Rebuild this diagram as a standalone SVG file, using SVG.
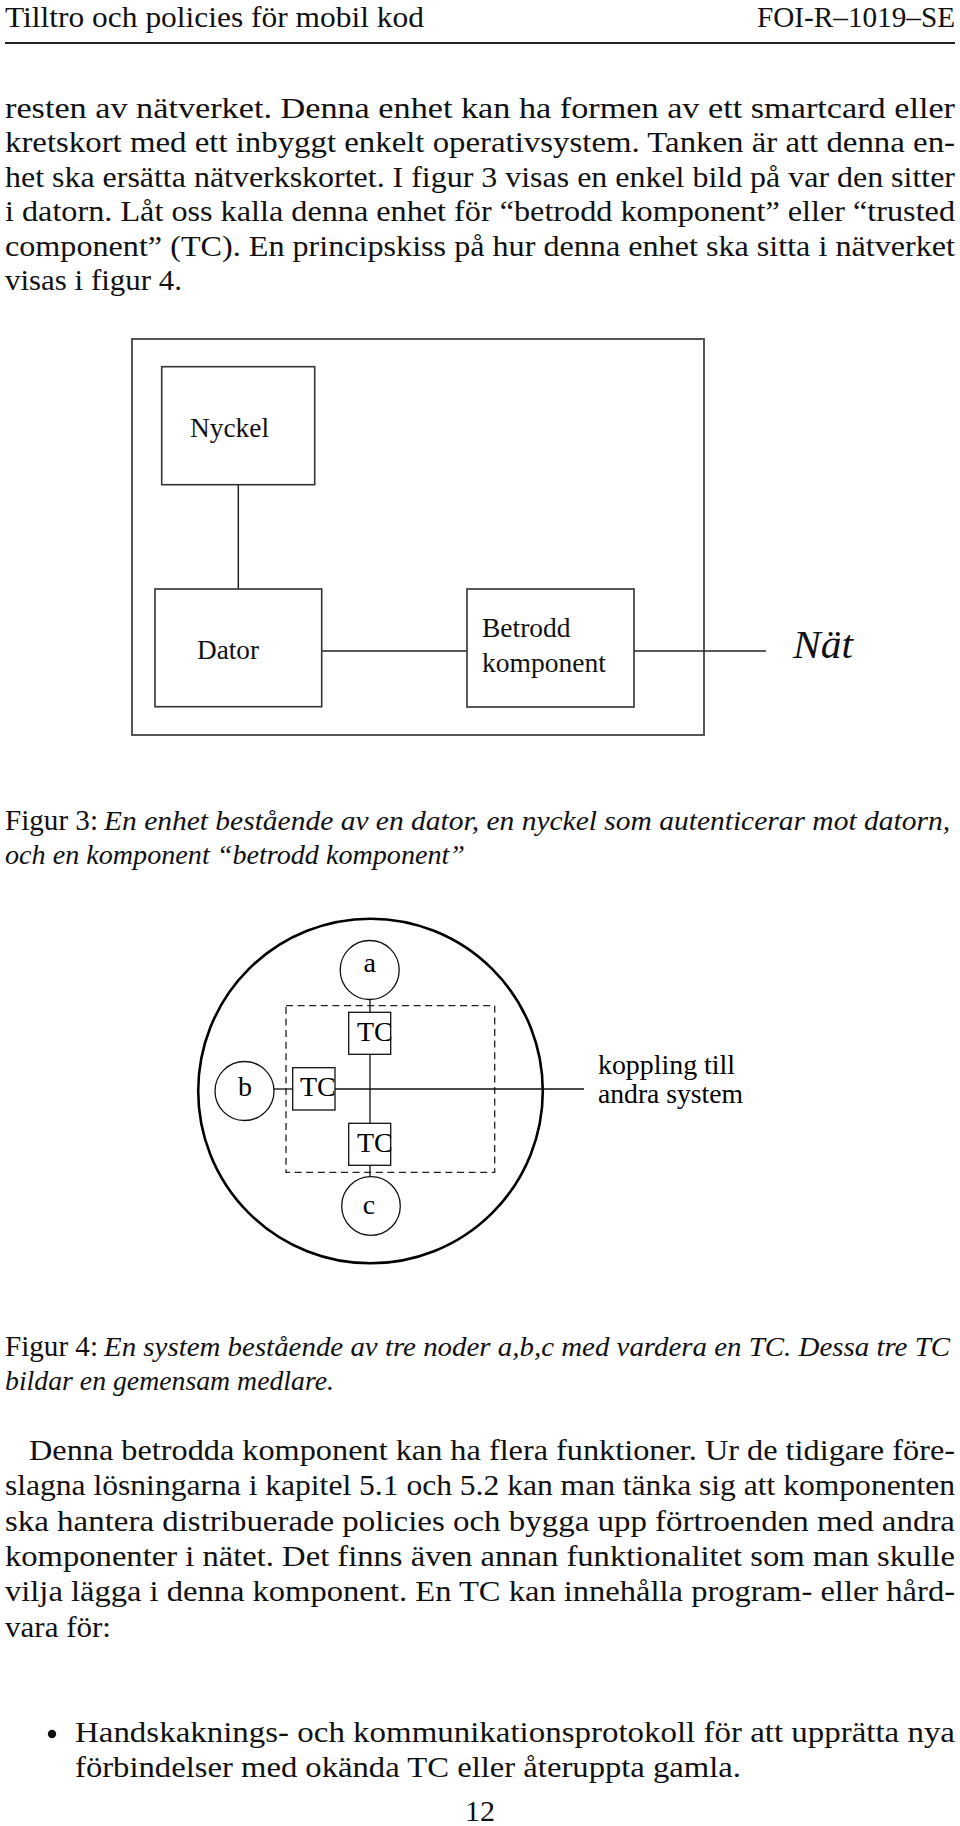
<svg xmlns="http://www.w3.org/2000/svg" width="960" height="1826" viewBox="0 0 960 1826">
<style>
  .body { font-family: "Liberation Serif", "DejaVu Serif", serif; font-size: 30px; fill: #111; }
  .it { font-style: italic; }
  .cap { font-size: 28px; }
  .hdr { font-family: "Liberation Serif", "DejaVu Serif", serif; font-size: 30px; fill: #111; }
  .lbl { font-family: "Liberation Serif", "DejaVu Serif", serif; font-size: 27.5px; fill: #111; }
  .lbl4 { font-family: "Liberation Serif", "DejaVu Serif", serif; font-size: 28px; fill: #000; }
  .box3 { fill: none; stroke: #333; stroke-width: 1.6; }
  .frame3 { fill: none; stroke: #555; stroke-width: 2; }
  .line3 { fill: none; stroke: #222; stroke-width: 1.5; }
  .shape4 { fill: none; stroke: #111; stroke-width: 1.3; }
  .line4 { fill: none; stroke: #111; stroke-width: 1.3; }
</style>

<rect x="0" y="0" width="960" height="1826" fill="#ffffff"/>

<!-- Header -->
<g id="header">
  <text class="hdr" x="5" y="27" textLength="419" lengthAdjust="spacingAndGlyphs">Tilltro och policies för mobil kod</text>
  <text class="hdr" x="757" y="27" textLength="198" lengthAdjust="spacingAndGlyphs">FOI-R–1019–SE</text>
  <line x1="5" y1="43" x2="955" y2="43" stroke="#222" stroke-width="2"/>
</g>

<!-- Paragraph 1 -->
<g id="para1" class="body">
  <text x="5" y="118" textLength="950" lengthAdjust="spacingAndGlyphs">resten av nätverket. Denna enhet kan ha formen av ett smartcard eller</text>
  <text x="5" y="152" textLength="950" lengthAdjust="spacingAndGlyphs">kretskort med ett inbyggt enkelt operativsystem. Tanken är att denna en-</text>
  <text x="5" y="187" textLength="950" lengthAdjust="spacingAndGlyphs">het ska ersätta nätverkskortet. I figur 3 visas en enkel bild på var den sitter</text>
  <text x="5" y="221" textLength="950" lengthAdjust="spacingAndGlyphs">i datorn. Låt oss kalla denna enhet för “betrodd komponent” eller “trusted</text>
  <text x="5" y="256" textLength="950" lengthAdjust="spacingAndGlyphs">component” (TC). En principskiss på hur denna enhet ska sitta i nätverket</text>
  <text x="5" y="290" textLength="177" lengthAdjust="spacingAndGlyphs">visas i figur 4.</text>
</g>

<!-- Figure 3 -->
<g id="fig3-frame">
  <rect class="frame3" x="132" y="339" width="572" height="396"/>
</g>
<g id="fig3-connectors">
  <line class="line3" x1="238.3" y1="485" x2="238.3" y2="589"/>
  <line class="line3" x1="321.7" y1="651" x2="467" y2="651"/>
  <line class="line3" x1="634" y1="651" x2="766" y2="651"/>
</g>
<g id="nyckel">
  <rect class="box3" x="161.7" y="366.7" width="153" height="118"/>
  <text class="lbl" x="190" y="437" textLength="79" lengthAdjust="spacingAndGlyphs">Nyckel</text>
</g>
<g id="dator">
  <rect class="box3" x="155" y="589" width="166.7" height="117.7"/>
  <text class="lbl" x="197" y="659" textLength="62" lengthAdjust="spacingAndGlyphs">Dator</text>
</g>
<g id="betrodd">
  <rect class="box3" x="467" y="589" width="167" height="118"/>
  <text class="lbl" x="482" y="637">Betrodd</text>
  <text class="lbl" x="482" y="672" textLength="124" lengthAdjust="spacingAndGlyphs">komponent</text>
</g>
<g id="nat">
  <text x="793" y="658" font-family="Liberation Serif, serif" font-style="italic" font-size="39" fill="#111" textLength="60" lengthAdjust="spacingAndGlyphs">Nät</text>
</g>

<!-- Figure 3 caption -->
<g id="caption3" class="body">
  <text x="5" y="830" textLength="93" lengthAdjust="spacingAndGlyphs">Figur 3:</text>
  <text x="104" y="830" textLength="846" lengthAdjust="spacingAndGlyphs" class="it cap">En enhet bestående av en dator, en nyckel som autenticerar mot datorn,</text>
  <text x="5" y="864" textLength="460" lengthAdjust="spacingAndGlyphs" class="it cap">och en komponent “betrodd komponent”</text>
</g>

<!-- Figure 4 -->
<g id="system">
  <circle cx="370.5" cy="1091" r="172.3" fill="none" stroke="#000" stroke-width="2.6"/>
</g>
<g id="medlare">
  <rect x="286" y="1005.7" width="208.7" height="166.6" fill="none" stroke="#222" stroke-width="1.3" stroke-dasharray="7 4.6"/>
</g>
<g id="fig4-connectors">
  <line class="line4" x1="370" y1="999.5" x2="370" y2="1012.3"/>
  <line class="line4" x1="370" y1="1054.3" x2="370" y2="1123.3"/>
  <line class="line4" x1="370" y1="1165.3" x2="370" y2="1176.7"/>
  <line class="line4" x1="274" y1="1089" x2="292.7" y2="1089"/>
  <line class="line4" x1="335" y1="1089" x2="584" y2="1089"/>
</g>
<g id="node-a">
  <circle class="shape4" cx="369.7" cy="970" r="29.5"/>
  <text class="lbl4" x="369.7" y="972" text-anchor="middle">a</text>
</g>
<g id="node-b">
  <circle class="shape4" cx="244.5" cy="1091" r="29.5"/>
  <text class="lbl4" x="245" y="1096" text-anchor="middle">b</text>
</g>
<g id="node-c">
  <circle class="shape4" cx="371" cy="1206" r="29.3"/>
  <text class="lbl4" x="369" y="1214" text-anchor="middle">c</text>
</g>
<g id="tc-a">
  <rect class="shape4" x="348.7" y="1012.3" width="42" height="42"/>
  <text class="lbl4" x="357" y="1041">TC</text>
</g>
<g id="tc-b">
  <rect class="shape4" x="292.7" y="1067.7" width="42.3" height="42.3"/>
  <text class="lbl4" x="300" y="1096">TC</text>
</g>
<g id="tc-c">
  <rect class="shape4" x="348.7" y="1123.3" width="42" height="42"/>
  <text class="lbl4" x="357" y="1152">TC</text>
</g>
<g id="koppling">
  <text class="lbl4" x="598" y="1074" textLength="137" lengthAdjust="spacingAndGlyphs">koppling till</text>
  <text class="lbl4" x="598" y="1103" textLength="145" lengthAdjust="spacingAndGlyphs">andra system</text>
</g>

<!-- Figure 4 caption -->
<g id="caption4" class="body">
  <text x="5" y="1356" textLength="93" lengthAdjust="spacingAndGlyphs">Figur 4:</text>
  <text x="104" y="1356" textLength="846" lengthAdjust="spacingAndGlyphs" class="it cap">En system bestående av tre noder a,b,c med vardera en TC. Dessa tre TC</text>
  <text x="5" y="1390" textLength="329" lengthAdjust="spacingAndGlyphs" class="it cap">bildar en gemensam medlare.</text>
</g>

<!-- Paragraph 2 -->
<g id="para2" class="body">
  <text x="29" y="1460" textLength="926" lengthAdjust="spacingAndGlyphs">Denna betrodda komponent kan ha flera funktioner. Ur de tidigare före-</text>
  <text x="5" y="1495" textLength="950" lengthAdjust="spacingAndGlyphs">slagna lösningarna i kapitel 5.1 och 5.2 kan man tänka sig att komponenten</text>
  <text x="5" y="1531" textLength="950" lengthAdjust="spacingAndGlyphs">ska hantera distribuerade policies och bygga upp förtroenden med andra</text>
  <text x="5" y="1566" textLength="950" lengthAdjust="spacingAndGlyphs">komponenter i nätet. Det finns även annan funktionalitet som man skulle</text>
  <text x="5" y="1601" textLength="950" lengthAdjust="spacingAndGlyphs">vilja lägga i denna komponent. En TC kan innehålla program- eller hård-</text>
  <text x="5" y="1637" textLength="106" lengthAdjust="spacingAndGlyphs">vara för:</text>
</g>

<!-- Bullet -->
<g id="bullet" class="body">
  <circle cx="52" cy="1734" r="4.2" fill="#111"/>
  <text x="75" y="1742" textLength="880" lengthAdjust="spacingAndGlyphs">Handskaknings- och kommunikationsprotokoll för att upprätta nya</text>
  <text x="75" y="1777" textLength="666" lengthAdjust="spacingAndGlyphs">förbindelser med okända TC eller återuppta gamla.</text>
</g>

<!-- Page number -->
<g id="pagenum">
  <text class="body" x="480" y="1821" text-anchor="middle">12</text>
</g>
</svg>
